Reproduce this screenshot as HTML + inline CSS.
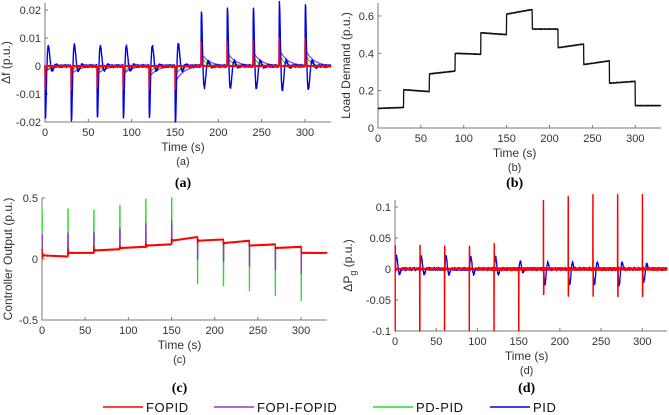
<!DOCTYPE html>
<html><head><meta charset="utf-8"><style>
html,body{margin:0;padding:0;background:#fff}
svg{display:block;font-family:"Liberation Sans",sans-serif}
.t{font-size:11px;fill:#333}
.b{font-family:"Liberation Serif",serif;font-weight:bold;font-size:14px;fill:#000}
.lg{font-size:13px;fill:#111;letter-spacing:0.6px}
</style></head><body>
<svg id="s" width="669" height="415" viewBox="0 0 669 415"></svg>
<script>
// ---- data ----
const eventTimes=[0,30,60,90,120,150,180,210,240,270,300];
const loadLevels=[0.105,0.205,0.29,0.40,0.51,0.61,0.53,0.43,0.34,0.24,0.12];
const loadDrift=[0.005,-0.01,0.015,-0.005,-0.01,0.025,0.0,0.02,0.02,0.01,0.0];
const dfPID=[-0.018,-0.019,-0.018,-0.018,-0.018,-0.020,0.019,0.020,0.020,0.022,0.021];
const dfFOPID=[-0.012,-0.012,-0.011,-0.012,-0.012,-0.012,0.012,0.012,0.013,0.014,0.014];
const dfPDPID=[-0.002,-0.002,-0.002,-0.003,-0.003,-0.004,0.004,0.004,0.004,0.005,0.005];
const dfFOPI=[-0.002,-0.003,-0.003,-0.003,-0.004,-0.006,0.005,0.005,0.005,0.006,0.006];
const uBase=[0.03,0.05,0.07,0.09,0.11,0.15,0.15,0.13,0.11,0.09,0.05];
const uDrift=[-0.01,0.0,0.01,0.01,0.01,0.03,0.01,0.02,0.01,0.01,0.0];
const uPDPID=[0.40,0.41,0.40,0.44,0.49,0.50,-0.20,-0.22,-0.26,-0.30,-0.34];
const uFOPI=[0.20,0.21,0.22,0.25,0.29,0.31,0.0,-0.02,-0.06,-0.09,-0.12];
const uFOPID=[0.08,0.09,0.10,0.11,0.15,0.18,0.12,0.11,0.10,0.08,0.06];
const pgFOPIDpos=[0.038,0.038,0.036,0.036,0.04,0.0,0.11,0.115,0.12,0.12,0.12];
const pgFOPIDneg=[-0.12,-0.12,-0.098,-0.10,-0.12,-0.12,-0.04,-0.042,-0.042,-0.045,-0.043];
const pgPID=[0.02,0.02,0.021,0.02,0.02,0.012,-0.025,-0.025,-0.025,-0.026,-0.02];
const panelTicksX=[0,50,100,150,200,250,300];
const ticksA=[-0.02,-0.01,0,0.01,0.02],labA=["-0.02","-0.01","0","0.01","0.02"];
const ticksB=[0,0.2,0.4,0.6],labB=["0","0.2","0.4","0.6"];
const ticksC=[-0.5,0,0.5],labC=["-0.5","0","0.5"];
const ticksD=[-0.1,-0.05,0,0.05,0.1],labD=["-0.1","-0.05","0","0.05","0.1"];
// ---- helpers ----
const S=document.getElementById('s'),NS='http://www.w3.org/2000/svg';
function el(tag,attrs,txt){const e=document.createElementNS(NS,tag);for(const k in attrs)e.setAttribute(k,attrs[k]);if(txt!==undefined)e.textContent=txt;S.appendChild(e);return e;}
function wig(t,a){return a*(Math.sin(t*7.3)+0.6*Math.sin(t*13.1+1)+0.4*Math.sin(t*3.7+2));}
function idx(t){let k=0;for(let i=0;i<eventTimes.length;i++)if(t>=eventTimes[i])k=i;return k;}
function panel(P){
  const X=v=>P.x0+v*P.sx, Y=v=>P.y0-v*P.sy;
  let ax=el('path',{d:`M${X(0)},${P.top}V${P.bot}H${X(330)}`,fill:'none',stroke:'#777','stroke-width':1});
  
  panelTicksX.forEach(v=>{el('line',{x1:X(v),x2:X(v),y1:P.bot,y2:P.bot-3,stroke:'#777'});
    let t=el('text',{x:X(v),y:P.bot+14,'text-anchor':'middle',class:'t'},v);
    });
  P.ty.forEach((v,i)=>{el('line',{x1:X(0),x2:X(0)+3,y1:Y(v),y2:Y(v),stroke:'#777'});
    let t=el('text',{x:X(0)-4,y:Y(v)+4,'text-anchor':'end',class:'t'},P.tl[i]);
    });
  let xt=el('text',{x:X(150)+8,y:P.bot+29,'text-anchor':'middle',class:'t',style:'font-size:12px'},'Time (s)');
  
  let sl=el('text',{x:X(150)+8,y:P.bot+43,'text-anchor':'middle',class:'t',style:'font-size:11px'},'('+P.n+')');
  
  let bl=el('text',{x:X(150)+8,y:P.cap,'text-anchor':'middle',class:'b'},'('+P.n+')');
  
  let yt=el('text',{x:0,y:0,'text-anchor':'middle',class:'t',style:'font-size:12px',transform:`translate(${P.yl},${(P.top+P.bot)/2}) rotate(-90)`});
  yt.innerHTML=P.ylab;
  P.series.forEach(s=>{let d='';for(let t=0;t<=330;t+=s.dt||0.25){let v=s.f(t);v=Math.max(P.lo,Math.min(P.hi,v));d+=(d?'L':'M')+X(t).toFixed(1)+','+Y(v).toFixed(1);}
    let p=el('path',{d,fill:'none',stroke:s.c,'stroke-width':s.w||1.2,'stroke-linejoin':'round'});
    });
}
function sumEv(t,arr,shape){let v=0;eventTimes.forEach((e,i)=>{if(t>=e)v+=arr[i]*shape(t-e,i);});return v;}
// ---- panel a ----
panel({n:'a',x0:45,sx:286/330,y0:66,sy:2800,top:3,bot:122,cap:187,yl:10,lo:-0.02,hi:0.023,ty:ticksA,tl:labA,ylab:'Δf (p.u.)',series:[
 {name:'fopi-fopid',c:'#9933cc',f:t=>sumEv(t,dfFOPI,(x)=>x<0.3?0:Math.exp(-x/9))},
 {name:'pd-pid',c:'#22dd22',f:t=>sumEv(t,dfPDPID,(x)=>x<0.3?0:Math.exp(-x/5))},
 {name:'pid',c:'#0000ee',w:1.4,f:t=>sumEv(t,dfPID,(x)=>(1-Math.exp(-x/0.3))*Math.exp(-x/3)*Math.cos(2*Math.PI*x/9)*1.6)+wig(t,0.0003)},
 {name:'fopid',c:'#ff0000',w:1.4,dt:0.1,f:t=>sumEv(t,dfFOPID,(x)=>(1-Math.exp(-x/0.05))*Math.exp(-x/0.5))+wig(t*3,0.0001)}
]});
// ---- panel b ----
panel({n:'b',x0:378,sx:283/330,y0:128,sy:186.7,top:3,bot:128,cap:187,yl:350,lo:-1,hi:1,ty:ticksB,tl:labB,ylab:'Load Demand (p.u.)',series:[
 {name:'load-demand',c:'#111',w:1.3,f:t=>{const k=idx(t),f=(t-eventTimes[k])/30;return loadLevels[k]+loadDrift[k]*f+wig(t,0.0012);}}
]});
// ---- panel c ----
panel({n:'c',x0:42,sx:285/330,y0:259,sy:122,top:198,bot:320,cap:392,yl:12,lo:-0.5,hi:0.52,ty:ticksC,tl:labC,ylab:'Controller Output (p.u.)',series:[
 {name:'pd-pid',c:'#22dd22',dt:0.1,f:t=>{const k=idx(t),x=t-eventTimes[k];return x<0.3?uPDPID[k]:uBase[k]+uDrift[k]*x/30;}},
 {name:'fopi-fopid',c:'#9933cc',dt:0.1,f:t=>{const k=idx(t),x=t-eventTimes[k];return x<0.4?uFOPI[k]:uBase[k]+uDrift[k]*x/30;}},
 {name:'pid',c:'#0000ee',dt:0.1,f:t=>{const k=idx(t),x=t-eventTimes[k];return uBase[k]+uDrift[k]*x/30+(uFOPID[k]-uBase[k])*0.3*Math.exp(-x/2);}},
 {name:'fopid',c:'#ff0000',w:1.4,dt:0.1,f:t=>{const k=idx(t),x=t-eventTimes[k];return uBase[k]+uDrift[k]*x/30+(uFOPID[k]-uBase[k])*Math.exp(-x/0.6)*Math.cos(x*6)+wig(t*2,0.002);}}
]});
// ---- panel d ----
panel({n:'d',x0:395,sx:272/330,y0:269,sy:620,top:200,bot:331,cap:392,yl:352,lo:-0.1,hi:0.12,ty:ticksD,tl:labD,ylab:'ΔP<tspan dy="4" style="font-size:9px">g</tspan><tspan dy="-4"> (p.u.)</tspan>',series:[
 {name:'pid',c:'#0000ee',w:1.3,f:t=>sumEv(t,pgPID,(x)=>x<0.5?0:Math.sin(Math.PI*Math.min(x-0.5,7)/3.5)*Math.exp(-(x-0.5)/4)*1.5)+wig(t,0.0015)},
 {name:'fopid',c:'#ff0000',w:1.4,dt:0.1,f:t=>{const k=idx(t),x=t-eventTimes[k];let v=0;
   if(x<0.25)v=pgFOPIDneg[k]*(k<6?1:0)+pgFOPIDpos[k]*(k<6?0:1);
   else if(x<0.5)v=k<6?pgFOPIDpos[k]:pgFOPIDneg[k];
   else v=(k<6?pgFOPIDpos[k]:pgFOPIDneg[k])*0.25*Math.exp(-x/0.8)*Math.cos(x*9);
   return v+wig(t*4,0.0006*(t>100?1.8:1));}}
]});
// ---- legend ----
const legendNames=['FOPID','FOPI-FOPID','PD-PID','PID'];
const legendColors=['#ff0000','#9933cc','#22dd22','#0000ee'];
const legX=[103,214,373,490];
legendNames.forEach((n,i)=>{
  const g=el('line',{x1:legX[i],x2:legX[i]+40,y1:407,y2:407,stroke:legendColors[i],'stroke-width':1.5});
  
  
  const t=el('text',{x:legX[i]+43,y:412,class:'lg'},n);
  
  
});
</script>
</body></html>
